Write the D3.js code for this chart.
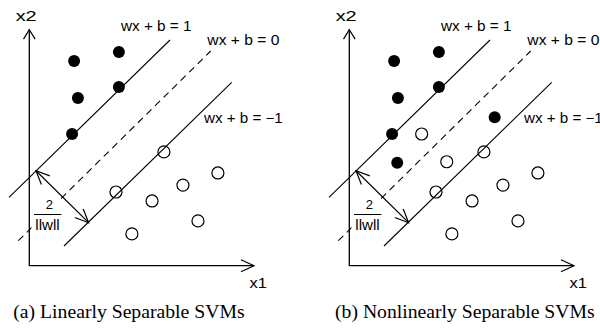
<!DOCTYPE html>
<html><head><meta charset="utf-8">
<script src="https://cdn.jsdelivr.net/npm/d3@7"></script>
<style>
html,body{margin:0;padding:0;background:#fff;}
svg{display:block;}
.lab{font-family:"Liberation Sans",Arial,Helvetica,sans-serif;fill:#000;}
.cap{font-family:"Liberation Serif","Times New Roman",serif;fill:#000;}
</style></head>
<body>
<svg id="c" width="600" height="329"></svg>
<script>
// ---- data (units of the x1/x2 plane) ----
const panels = ["a", "b"];
const captions = ["(a) Linearly Separable SVMs", "(b) Nonlinearly Separable SVMs"];
const filledA = [[2.0,9.14],[4.0,9.54],[2.17,7.49],[4.0,7.98],[1.91,5.88]];
const openA = [[6.01,5.08],[8.42,4.14],[6.86,3.60],[3.87,3.29],[5.48,2.89],[7.53,2.0],[4.58,1.42]];
const filledExtraB = [[2.14,4.60],[6.49,6.63]];
const openExtraB = [[3.23,5.88],[4.35,4.64]];
const lineNames = ["wx + b = 1", "wx + b = 0", "wx + b = \u22121"];
const lineEnds = [
  [[-0.906,3.054],[6.281,10.076]],
  [[-0.491,1.116],[8.098,9.585]],
  [[1.549,0.879],[9.036,8.188]]
];
const lineDashed = [false, true, false];
const lineLabelAt = [[4.09,10.49],[7.95,9.87],[7.80,6.37]];
const marginArrow = [[0.299,4.241],[2.649,1.920]];
const axisMax = [10.03, 10.54];
const axisNames = ["x1", "x2"];

const svg = d3.select("#c");
const x = d3.scaleLinear().domain([0,10]).range([29.3, 253.3]);
const y = d3.scaleLinear().domain([0,10]).range([265.7, 41.7]);

const labelWidths = [70.7, 72, 78.7];

function head(g, tip, from, len, half) {
  const dx = tip[0]-from[0], dy = tip[1]-from[1];
  const L = Math.hypot(dx,dy), ux = dx/L, uy = dy/L;
  const bx = tip[0]-ux*len, by = tip[1]-uy*len;
  g.append("path")
    .attr("d", `M${bx - uy*half},${by + ux*half}L${tip[0]},${tip[1]}L${bx + uy*half},${by - ux*half}`)
    .attr("fill","none").attr("stroke","#000").attr("stroke-width",1.2);
}

function label(g, txt, px, py, size, width, anchor) {
  const t = g.append("text").attr("class","lab").attr("x", px).attr("y", py)
    .attr("font-size", size).text(txt);
  if (anchor) t.attr("text-anchor", anchor);
  if (width) t.attr("textLength", width).attr("lengthAdjust", "spacingAndGlyphs");
  return t;
}

panels.forEach((p, i) => {
  const g = svg.append("g").attr("transform", `translate(${i*320},0)`);
  const filled = i === 0 ? filledA : filledA.concat(filledExtraB);
  const open = i === 0 ? openA : openA.concat(openExtraB);

  // hyperplanes
  lineEnds.forEach((e, k) => {
    g.append("line")
      .attr("x1", x(e[0][0])).attr("y1", y(e[0][1]))
      .attr("x2", x(e[1][0])).attr("y2", y(e[1][1]))
      .attr("stroke","#000").attr("stroke-width",1.1)
      .attr("stroke-dasharray", lineDashed[k] ? "7,5" : null);
    label(g, lineNames[k], x(lineLabelAt[k][0]), y(lineLabelAt[k][1]), 14.2, labelWidths[k]);
  });

  // fraction 2/||w|| on a white patch
  g.append("rect").attr("x", 31.5).attr("y", 199).attr("width", 32.5).attr("height", 33).attr("fill","#fff");
  label(g, "2", 49.3, 209.3, 13, null, "middle");
  g.append("line").attr("x1", 34).attr("x2", 61.3).attr("y1", 214.5).attr("y2", 214.5)
    .attr("stroke","#000").attr("stroke-width",1);
  label(g, "llwll", 35.3, 229.5, 14.5, 24.4);

  // axes
  const o = [x(0), y(0)];
  const xe = [x(axisMax[0]), y(0)], ye = [x(0), y(axisMax[1])];
  g.append("path").attr("d", `M${ye[0]},${ye[1]}L${o[0]},${o[1]}L${xe[0]},${xe[1]}`)
    .attr("fill","none").attr("stroke","#000").attr("stroke-width",1.3);
  head(g, xe, o, 13, 6);
  head(g, ye, o, 9.5, 5.8);
  label(g, axisNames[0], x(axisMax[0]) - 4.5, 287.7, 15.2, 17.4);
  label(g, axisNames[1], x(0) - 13.6, 20.7, 15, 21);

  // margin arrow
  const a0 = [x(marginArrow[0][0]), y(marginArrow[0][1])];
  const a1 = [x(marginArrow[1][0]), y(marginArrow[1][1])];
  g.append("line").attr("x1",a0[0]).attr("y1",a0[1]).attr("x2",a1[0]).attr("y2",a1[1])
    .attr("stroke","#000").attr("stroke-width",1.2);
  head(g, a0, a1, 13.5, 6);
  head(g, a1, a0, 13.5, 6);

  // points
  g.selectAll("circle.f").data(filled).join("circle").attr("class","f")
    .attr("cx", d => x(d[0])).attr("cy", d => y(d[1])).attr("r", 6).attr("fill","#000");
  g.selectAll("circle.o").data(open).join("circle").attr("class","o")
    .attr("cx", d => x(d[0])).attr("cy", d => y(d[1])).attr("r", 6)
    .attr("fill","none").attr("stroke","#000").attr("stroke-width",1.2);

  // caption
  g.append("text").attr("class","cap").attr("x", i === 0 ? 13.3 : 15).attr("y", 318.3)
    .attr("font-size", 19.7).text(captions[i]);
});
</script>
</body></html>
